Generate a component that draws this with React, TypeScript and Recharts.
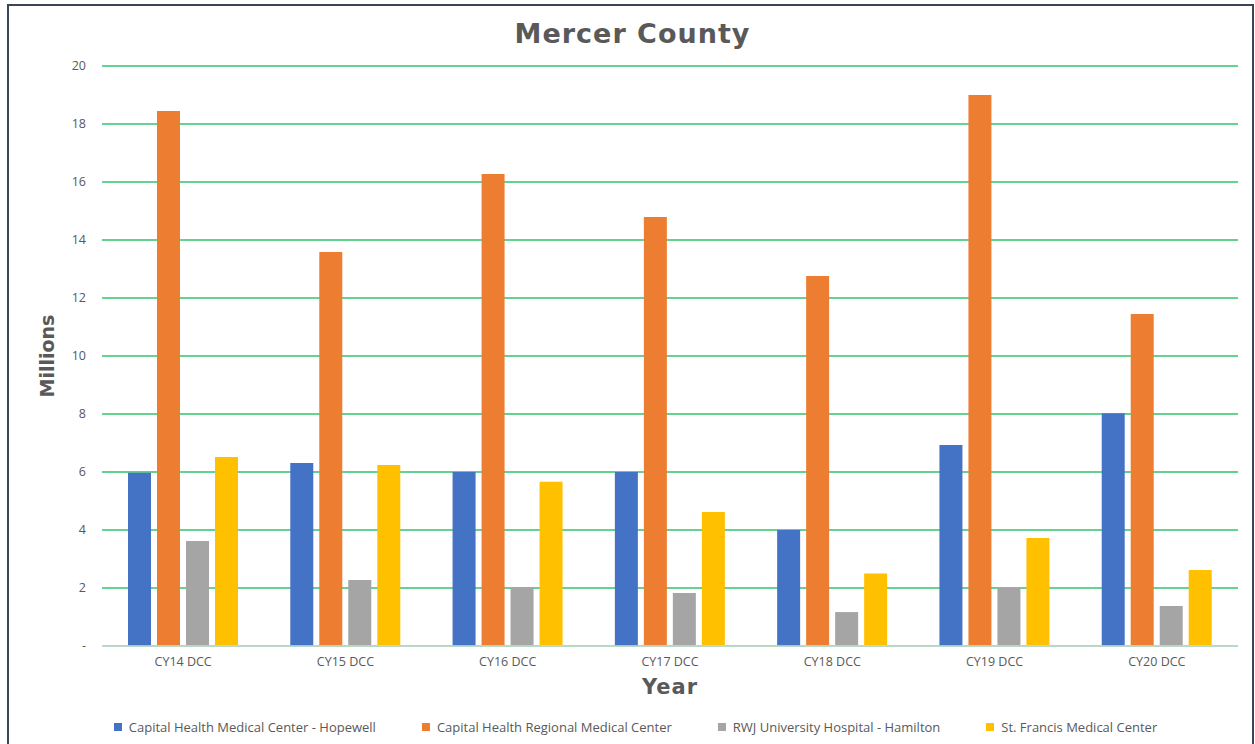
import { BarChart, Bar, XAxis, YAxis, CartesianGrid, Legend } from 'recharts';

const years = ['CY14 DCC', 'CY15 DCC', 'CY16 DCC', 'CY17 DCC', 'CY18 DCC', 'CY19 DCC', 'CY20 DCC'];
const hopewell = [5.97, 6.31, 6.0, 6.0, 4.0, 6.93, 8.03];
const regional = [18.45, 13.59, 16.28, 14.79, 12.76, 19.0, 11.45];
const hamilton = [3.62, 2.28, 2.03, 1.83, 1.17, 2.0, 1.38];
const stFrancis = [6.52, 6.24, 5.66, 4.62, 2.5, 3.72, 2.62];
const yTicks = [0, 2, 4, 6, 8, 10, 12, 14, 16, 18, 20];

const series = [
  { key: 'hopewell', name: 'Capital Health Medical Center - Hopewell', color: '#4472c4' },
  { key: 'regional', name: 'Capital Health Regional Medical Center', color: '#ed7d31' },
  { key: 'hamilton', name: 'RWJ University Hospital - Hamilton', color: '#a5a5a5' },
  { key: 'stFrancis', name: 'St. Francis Medical Center', color: '#ffc000' },
];

const data = years.map((y, i) => ({
  year: y,
  hopewell: hopewell[i],
  regional: regional[i],
  hamilton: hamilton[i],
  stFrancis: stFrancis[i],
}));

const font = '"Open Sans", sans-serif';
const heavy = '"DejaVu Sans", sans-serif';
const textGray = '#595959';

function LegendContent() {
  return (
    <div
      style={{
        display: 'flex',
        justifyContent: 'center',
        gap: 46,
        fontFamily: font,
        fontSize: 13,
        color: textGray,
        paddingLeft: 16,
      }}
    >
      {series.map((s) => (
        <div key={s.key} style={{ display: 'flex', alignItems: 'center' }}>
          <span style={{ width: 8, height: 8, background: s.color, marginRight: 7, display: 'inline-block' }} />
          <span>{s.name}</span>
        </div>
      ))}
    </div>
  );
}

export default function App() {
  return (
    <div style={{ position: 'absolute', top: 0, left: 0, width: 1255, height: 744, overflow: 'hidden', background: '#fff' }}>
      <div
        style={{
          position: 'absolute',
          left: 7,
          top: 4,
          width: 1247,
          height: 800,
          border: '2px solid #3a4658',
          boxSizing: 'border-box',
        }}
      />
      <div
        style={{
          position: 'absolute',
          top: 18,
          left: 0,
          width: 1265,
          textAlign: 'center',
          fontFamily: heavy,
          fontWeight: 'bold',
          fontSize: 27,
          letterSpacing: 1,
          color: textGray,
        }}
      >
        Mercer County
      </div>
      <BarChart
        width={1255}
        height={744}
        data={data}
        margin={{ top: 66, right: 17, bottom: 38, left: 42 }}
        barSize={23}
        barGap={6}
        style={{ position: 'absolute', top: 0, left: 0 }}
      >
        <CartesianGrid vertical={false} stroke="#2fc46a" strokeWidth={1.5} />
        <XAxis
          dataKey="year"
          height={60}
          tickLine={false}
          tickSize={0}
          tickMargin={11}
          axisLine={{ stroke: '#d9d9d9', strokeWidth: 1.5 }}
          tick={{ fill: textGray, fontSize: 12.5, fontFamily: font }}
          label={{
            value: 'Year',
            position: 'insideBottom',
            offset: 12,
            style: { fill: textGray, fontSize: 21, fontWeight: 'bold', letterSpacing: 1, fontFamily: heavy },
          }}
        />
        <YAxis
          width={60}
          domain={[0, 20]}
          ticks={yTicks}
          interval={0}
          axisLine={false}
          tickLine={false}
          tickSize={0}
          tickMargin={16}
          tickFormatter={(v: number) => (v === 0 ? '-' : String(v))}
          tick={{ fill: textGray, fontSize: 12.5, fontFamily: font }}
          label={{
            value: 'Millions',
            angle: -90,
            position: 'insideLeft',
            offset: 5,
            style: { textAnchor: 'middle', fill: textGray, fontSize: 19, fontWeight: 'bold', fontFamily: heavy },
          }}
        />
        <Legend
          layout="horizontal"
          verticalAlign="middle"
          align="center"
          content={<LegendContent />}
          wrapperStyle={{ top: 718, left: 0, width: 1255 }}
        />
        {series.map((s) => (
          <Bar key={s.key} dataKey={s.key} name={s.name} fill={s.color} isAnimationActive={false} />
        ))}
      </BarChart>
    </div>
  );
}
